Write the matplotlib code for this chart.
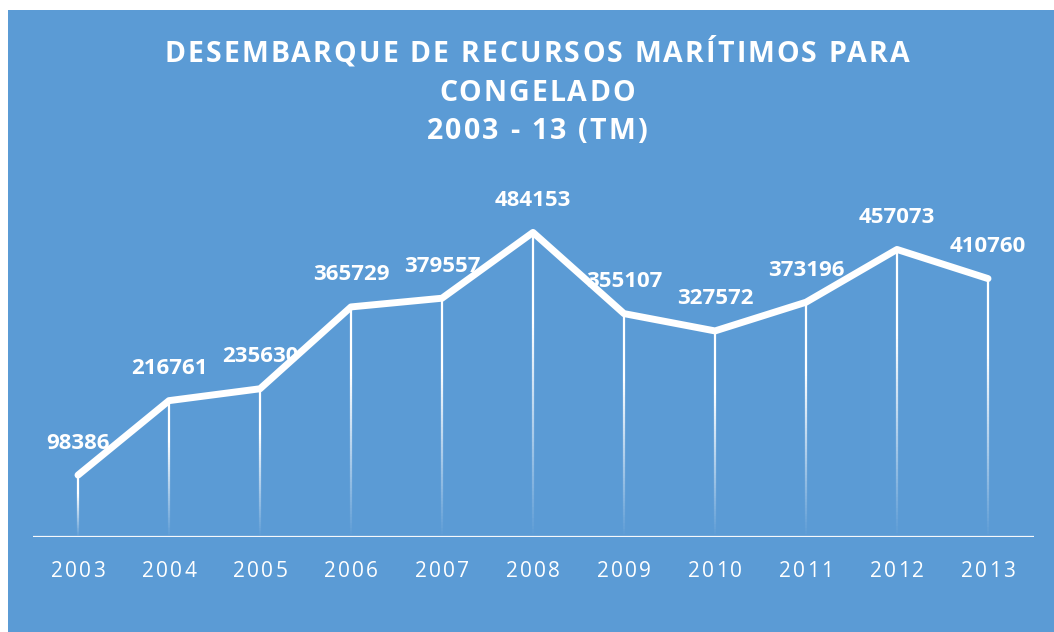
import numpy as np
import matplotlib
matplotlib.use('Agg')
import matplotlib.pyplot as plt
from matplotlib.collections import LineCollection
from matplotlib.patches import Rectangle

years = ['2003', '2004', '2005', '2006', '2007', '2008', '2009', '2010', '2011', '2012', '2013']
values = [98386, 216761, 235630, 365729, 379557, 484153, 355107, 327572, 373196, 457073, 410760]
title_lines = ['DESEMBARQUE DE RECURSOS MARÍTIMOS PARA', 'CONGELADO', '2003 - 13 (TM)']

BLUE = '#5B9BD5'
W, H = 1054, 632
plt.rcParams['font.family'] = ['Open Sans', 'DejaVu Sans']

fig = plt.figure(figsize=(W / 100, H / 100), dpi=100)
fig.patch.set_facecolor('white')
fig.patches.append(Rectangle((8 / W, 0), 1 - 8 / W, 1 - 10 / H, transform=fig.transFigure,
                             facecolor=BLUE, edgecolor='none', zorder=-10))

ax = fig.add_axes([32.5 / W, (H - 537) / H, 1001 / W, 346 / H])
ax.set_facecolor('none')
x = np.arange(len(years))
ax.set_xlim(-0.5, len(years) - 0.5)
ax.set_ylim(0, 550000)
for sp in ax.spines.values():
    sp.set_visible(False)
ax.set_xticks([])
ax.set_yticks([])

# axis line
ax.axhline(0, color='white', lw=1.6, alpha=0.95, zorder=2)

# gradient drop lines
segs, cols = [], []
N = 80
for xi, v in zip(x, values):
    ys = np.linspace(v, 0, N + 1)
    for k in range(N):
        t = (k + 0.5) / N
        a = float(np.clip((1 - t) / 0.7, 0, 1))
        segs.append([(xi, ys[k]), (xi, ys[k + 1])])
        cols.append((1, 1, 1, a))
ax.add_collection(LineCollection(segs, colors=cols, linewidths=1.6, capstyle='butt', zorder=2))

# main line
ax.plot(x, values, color='white', lw=5, solid_joinstyle='round', solid_capstyle='round', zorder=3)

# data labels
for xi, v in zip(x, values):
    ax.annotate(f'{v}', (xi, v), xytext=(0, 32), textcoords='offset pixels',
                ha='center', va='center', color='white', fontsize=16, fontweight='bold', zorder=4)

renderer = fig.canvas.get_renderer()


def text_w(s, **kw):
    t = fig.text(0, 0, s, **kw)
    w = t.get_window_extent(renderer).width
    t.remove()
    return w


def spaced(s, cx, base_y, spacing, **kw):
    """Draw s centred at pixel cx with baseline at pixel base_y (from top), with letter spacing."""
    total = text_w(s, **kw) + (len(s) - 1) * spacing
    left = cx - total / 2
    for i, ch in enumerate(s):
        if ch == ' ':
            continue
        off = text_w(s[:i + 1], **kw) - text_w(ch, **kw) if i > 0 else 0
        px = left + off + i * spacing
        fig.text(px / W, 1 - base_y / H, ch, ha='left', va='baseline', **kw)


title_kw = dict(color='white', fontsize=20.5, fontweight='bold')
sp_title = (745 - text_w(title_lines[0], **title_kw)) / (len(title_lines[0]) - 1)
for line, by in zip(title_lines, [62, 101, 139]):
    spaced(line, 537, by, sp_title, **title_kw)

year_kw = dict(color='white', fontsize=15)
for xi, yr in zip(x, years):
    px = ax.transData.transform((xi, 0))[0]
    spaced(yr, px, 577, 2.3, **year_kw)

fig.savefig('out.png', dpi=100, facecolor=fig.get_facecolor())
